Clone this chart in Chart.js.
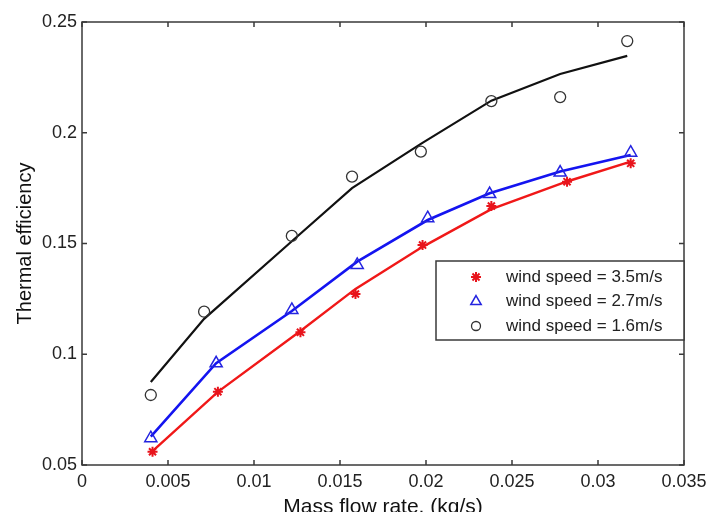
<!DOCTYPE html>
<html>
<head>
<meta charset="utf-8">
<script src="https://cdn.jsdelivr.net/npm/chart.js@4.4.0/dist/chart.umd.min.js"></script>
<style>
  html, body { margin: 0; padding: 0; background: #fff; overflow: hidden; }
  canvas { display: block; }
</style>
</head>
<body>
<canvas id="effChart" width="706" height="520"></canvas>
<script>
const xRed = [0.0041, 0.0079, 0.0127, 0.0159, 0.0198, 0.0238, 0.0282, 0.0319];
const effRed = [0.056, 0.0831, 0.1099, 0.1272, 0.1493, 0.1669, 0.1779, 0.1862];
const fitRed = [0.0563, 0.083, 0.1105, 0.1295, 0.1485, 0.1655, 0.178, 0.187];

const xBlue = [0.004, 0.0078, 0.0122, 0.016, 0.0201, 0.0237, 0.0278, 0.0319];
const effBlue = [0.0621, 0.0959, 0.12, 0.1403, 0.1614, 0.1723, 0.182, 0.191];
const fitBlue = [0.0628, 0.096, 0.1195, 0.1418, 0.1606, 0.1727, 0.1825, 0.19];

const xBlack = [0.004, 0.0071, 0.0122, 0.0157, 0.0197, 0.0238, 0.0278, 0.0317];
const effBlack = [0.0816, 0.1192, 0.1534, 0.1802, 0.1915, 0.2143, 0.2161, 0.2414];
const fitBlack = [0.0875, 0.116, 0.151, 0.175, 0.195, 0.2145, 0.2265, 0.2347];

const seriesNames = ["wind speed = 3.5m/s", "wind speed = 2.7m/s", "wind speed = 1.6m/s"];

const xTicks = [0, 0.005, 0.01, 0.015, 0.02, 0.025, 0.03, 0.035];
const xTickLabels = ["0", "0.005", "0.01", "0.015", "0.02", "0.025", "0.03", "0.035"];
const yTicks = [0.05, 0.1, 0.15, 0.2, 0.25];
const yTickLabels = ["0.05", "0.1", "0.15", "0.2", "0.25"];

const FONT = "'Liberation Sans', Arial, sans-serif";

function pts(xs, ys) {
  return xs.map((x, i) => ({ x: x, y: ys[i] }));
}

// box around the plot, inward ticks, and the legend
const matlabBox = {
  id: "matlabBox",
  afterDraw(chart) {
    const { ctx, chartArea: a, scales: { x, y } } = chart;
    ctx.save();
    ctx.strokeStyle = "#3a3a3a";
    ctx.lineWidth = 1.5;
    ctx.strokeRect(a.left, a.top, a.right - a.left, a.bottom - a.top);
    ctx.beginPath();
    x.ticks.forEach(t => {
      const px = x.getPixelForValue(t.value);
      ctx.moveTo(px, a.bottom); ctx.lineTo(px, a.bottom - 5);
      ctx.moveTo(px, a.top); ctx.lineTo(px, a.top + 5);
    });
    y.ticks.forEach(t => {
      const py = y.getPixelForValue(t.value);
      ctx.moveTo(a.left, py); ctx.lineTo(a.left + 5, py);
      ctx.moveTo(a.right, py); ctx.lineTo(a.right - 5, py);
    });
    ctx.stroke();

    // legend
    const lx = 436, ly = 261, lw = a.right - 436, lh = 79;
    ctx.fillStyle = "#fff";
    ctx.fillRect(lx, ly, lw, lh);
    ctx.strokeStyle = "#3a3a3a";
    ctx.lineWidth = 1.5;
    ctx.strokeRect(lx, ly, lw, lh);
    const markerSets = chart.data.datasets.filter(d => d.legendRow !== undefined);
    markerSets.forEach(d => {
      const ry = 277 + d.legendRow * 24.5;
      ctx.strokeStyle = d.borderColor;
      ctx.fillStyle = "rgba(0,0,0,0)";
      ctx.lineWidth = d.borderWidth;
      Chart.helpers.drawPoint(ctx, {
        pointStyle: d.pointStyle,
        radius: d.legendRadius,
        rotation: 0,
        borderWidth: d.borderWidth
      }, 476, ry);
      ctx.fillStyle = "#222";
      ctx.font = "17px " + FONT;
      ctx.textBaseline = "middle";
      ctx.textAlign = "left";
      ctx.fillText(d.label, 506, ry);
    });
    ctx.restore();
  }
};

const ctx = document.getElementById("effChart").getContext("2d");
new Chart(ctx, {
  type: "scatter",
  data: {
    datasets: [
      { label: seriesNames[0], data: pts(xRed, effRed), showLine: false,
        pointStyle: "star", pointRadius: 5, borderColor: "#e8141c", backgroundColor: "#e8141c",
        borderWidth: 2, legendRow: 0, legendRadius: 5 },
      { label: seriesNames[1], data: pts(xBlue, effBlue), showLine: false,
        pointStyle: "triangle", pointRadius: 7, borderColor: "#2424e0", backgroundColor: "rgba(0,0,0,0)",
        borderWidth: 1.5, legendRow: 1, legendRadius: 6 },
      { label: seriesNames[2], data: pts(xBlack, effBlack), showLine: false,
        pointStyle: "circle", pointRadius: 5.5, borderColor: "#333", backgroundColor: "rgba(0,0,0,0)",
        borderWidth: 1.3, legendRow: 2, legendRadius: 4.5 },
      { label: "fit 3.5", data: pts(xRed, fitRed), showLine: true, pointRadius: 0,
        borderColor: "#f01818", borderWidth: 2.4, tension: 0 },
      { label: "fit 2.7", data: pts(xBlue, fitBlue), showLine: true, pointRadius: 0,
        borderColor: "#1414f0", borderWidth: 2.6, tension: 0 },
      { label: "fit 1.6", data: pts(xBlack, fitBlack), showLine: true, pointRadius: 0,
        borderColor: "#111", borderWidth: 2.2, tension: 0 }
    ]
  },
  options: {
    responsive: false,
    animation: false,
    layout: { padding: { left: 0, top: 22, right: 22, bottom: 0 } },
    plugins: {
      legend: { display: false },
      tooltip: { enabled: false }
    },
    scales: {
      x: {
        type: "linear",
        min: 0,
        max: 0.035,
        afterBuildTicks: s => { s.ticks = xTicks.map(v => ({ value: v })); },
        afterFit: s => { s.height = 55; s.paddingLeft = 0; s.paddingRight = 0; },
        grid: { display: false, drawTicks: false },
        border: { display: false },
        ticks: {
          padding: 6,
          color: "#222",
          font: { family: FONT, size: 18 },
          maxRotation: 0,
          callback: (v, i) => xTickLabels[i]
        },
        title: {
          display: true,
          text: "Mass flow rate, (kg/s)",
          color: "#111",
          font: { family: FONT, size: 21 },
          padding: { top: 0, bottom: 0 }
        }
      },
      y: {
        type: "linear",
        min: 0.05,
        max: 0.25,
        afterBuildTicks: s => { s.ticks = yTicks.map(v => ({ value: v })); },
        afterFit: s => { s.width = 82; s.paddingTop = 0; s.paddingBottom = 0; },
        grid: { display: false, drawTicks: false },
        border: { display: false },
        ticks: {
          padding: 5,
          color: "#222",
          font: { family: FONT, size: 18 },
          callback: (v, i) => yTickLabels[i]
        },
        title: {
          display: true,
          text: "Thermal efficiency",
          color: "#111",
          font: { family: FONT, size: 20 },
          padding: { top: 13, bottom: 0 }
        }
      }
    }
  },
  plugins: [matlabBox]
});
</script>
</body>
</html>
